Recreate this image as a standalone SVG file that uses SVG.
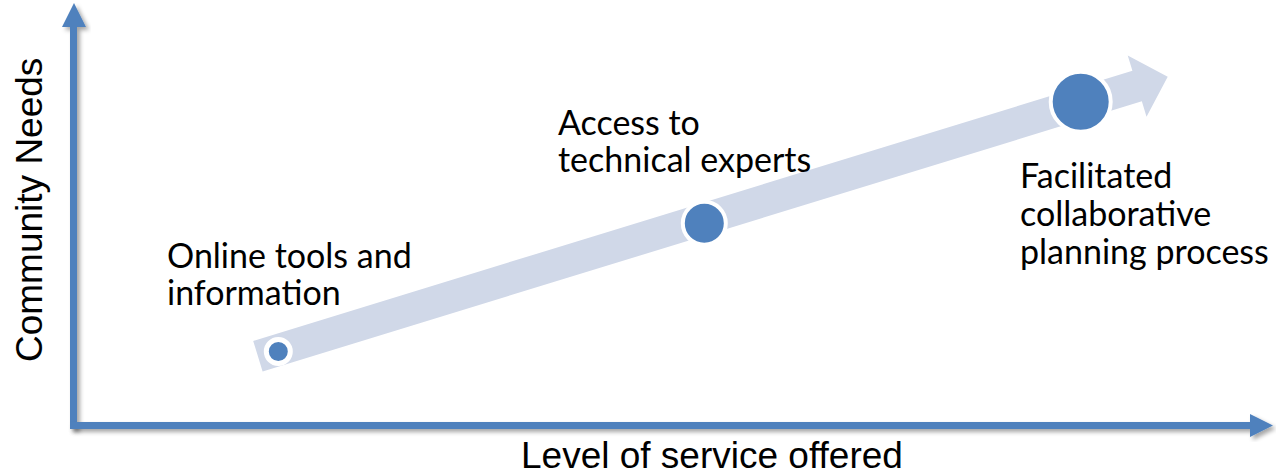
<svg xmlns="http://www.w3.org/2000/svg" width="1276" height="475" viewBox="0 0 1276 475">
<defs>
<filter id="sh" x="-10%" y="-10%" width="130%" height="130%">
<feDropShadow dx="3" dy="3" stdDeviation="2" flood-color="#000" flood-opacity="0.35"/>
</filter>
<style>
.axis{fill:#4F81BD;filter:url(#sh);}
.band{fill:#D0D8E8;}
.dot{fill:#4F81BD;stroke:#FFFFFF;}
.lbl{font-family:Lato,"Open Sans","Liberation Sans",sans-serif;font-size:34px;fill:#000;}
.ax{font-family:"Liberation Sans",Arial,sans-serif;font-size:37px;fill:#000;}
</style>
</defs>
<rect width="1276" height="475" fill="#FFFFFF"/>
<g id="connectors">
<g id="band" transform="translate(257.9,356.2) rotate(-17.08)">
<polygon class="band" points="0,-16 919.8,-16 919.8,-32 951.8,0 919.8,32 919.8,16 0,16"/>
</g>
</g>
<g id="y-axis">
<path class="axis" d="M70,27 L62,27 L74,3 L86,27 L77,27 L77,429 L70,429 Z"/>
</g>
<g id="x-axis">
<path class="axis" d="M70,422 L1250,422 L1250,414 L1273,425.5 L1250,437 L1250,429 L70,429 Z"/>
</g>
<g id="node-online">
<circle class="dot" cx="278.3" cy="351.5" r="12" stroke-width="5"/>
<text class="lbl" x="167" y="268">Online tools and</text>
<text class="lbl" x="167" y="305">information</text>
</g>
<g id="node-experts">
<circle class="dot" cx="704.3" cy="223.3" r="21.5" stroke-width="4"/>
<text class="lbl" x="558" y="135">Access to</text>
<text class="lbl" x="558" y="172">technical experts</text>
</g>
<g id="node-facilitated">
<circle class="dot" cx="1080.7" cy="101.7" r="30" stroke-width="4"/>
<text class="lbl" x="1020" y="188">Facilitated</text>
<text class="lbl" x="1020" y="226">collaborative</text>
<text class="lbl" x="1020" y="264">planning process</text>
</g>
<text class="ax" transform="translate(42,362) rotate(-90)">Community Needs</text>
<text class="ax" x="521" y="468">Level of service offered</text>
</svg>
